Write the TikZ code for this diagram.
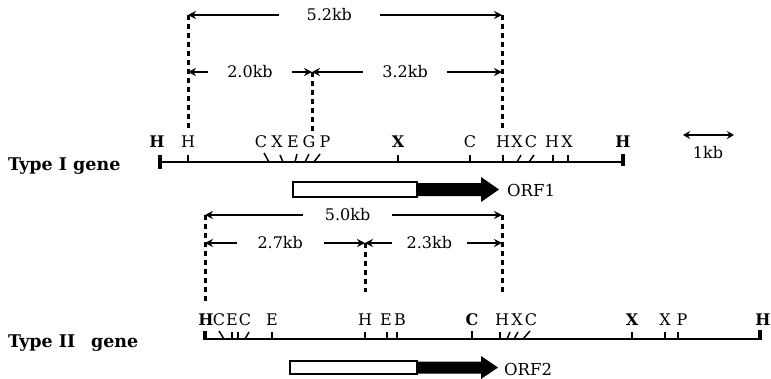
\documentclass[tikz,border=0pt]{standalone}
\usepackage{fontspec}
\setmainfont{DejaVu Serif}
\usetikzlibrary{arrows.meta}
\begin{document}
\begin{tikzpicture}[x=1pt,y=-1pt,
  site/.style={font=\fontsize{16}{18}\selectfont, inner sep=0pt},
  bsite/.style={font=\fontsize{16}{18}\selectfont\bfseries, inner sep=0pt},
  gline/.style={line width=2.4pt},
  tk/.style={line width=1.5pt},
  endtk/.style={line width=3.2pt},
  dashv/.style={line width=3pt, dash pattern=on 5pt off 4pt},
  dim/.style={line width=2pt, {Stealth[length=8pt,width=8pt]}-{Stealth[length=8pt,width=8pt]}},
  dimlab/.style={fill=white, font=\fontsize{16}{18}\selectfont, inner ysep=1pt},
  orfbox/.style={draw, line width=2.4pt, fill=white},
  glabel/.style={font=\fontsize{17.5}{20}\selectfont\bfseries, anchor=west, inner sep=0pt},
  orflab/.style={font=\fontsize{16.5}{18}\selectfont, anchor=west, inner sep=0pt}]
\useasboundingbox (0,0) rectangle (771,378);

% ---------- Type I ----------
\coordinate (a1t) at (188,15);  \coordinate (a1b) at (188,130);
\coordinate (a2t) at (312,72);  \coordinate (a2b) at (312,132);
\coordinate (a3t) at (502,15);  \coordinate (a3b) at (502,130);
\coordinate (a1m) at (188,72);  \coordinate (a3m) at (502,72);
\draw[dashv] (a1t) -- (a1b);
\draw[dashv] (a2t) -- (a2b);
\draw[dashv] (a3t) -- (a3b);
\draw[dim] (a1t) -- node[dimlab, pos=0.45, inner xsep=28pt] (l52) {5.2kb} (a3t);
\draw[dim] (a1m) -- node[dimlab, pos=0.5, inner xsep=19pt] (l20) {2.0kb} (a2t);
\draw[dim] (a2t) -- node[dimlab, pos=0.49, inner xsep=19pt] (l32) {3.2kb} (a3m);

% map line
\coordinate (g1l) at (160,162); \coordinate (g1r) at (623,162);
\draw[gline] (g1l) -- (g1r);
\draw[endtk] (160,155) -- (160,169);
\draw[endtk] (623,154) -- (623,166);
\foreach \x in {188,398,470,503,553,568} \draw[tk] (\x,162) -- (\x,155);
\draw[tk] (264,153) -- (269,162);
\draw[tk] (280,155) -- (283,162);
\draw[tk] (297,154) -- (295,162);
\draw[tk] (309,154) -- (305,162);
\draw[tk] (320,154) -- (314,162);
\draw[tk] (521,155) -- (517,162);
\draw[tk] (534,155) -- (529,162);

% site labels
\node[bsite] (t1h1) at (157,142) {H};
\node[site]  (t1h2) at (188,142) {H};
\node[site]  (t1c1) at (261,142) {C};
\node[site]  (t1x1) at (277,142) {X};
\node[site]  (t1e1) at (293,142) {E};
\node[site]  (t1g1) at (309,142) {G};
\node[site]  (t1p1) at (325,142) {P};
\node[bsite] (t1x2) at (398,142) {X};
\node[site]  (t1c2) at (470,142) {C};
\node[site]  (t1h3) at (503,142) {H};
\node[site]  (t1x3) at (517,142) {X};
\node[site]  (t1c3) at (531,142) {C};
\node[site]  (t1h4) at (552,142) {H};
\node[site]  (t1x4) at (567,142) {X};
\node[bsite] (t1h5) at (623,142) {H};

\node[glabel] (type1) at (8,166) {Type I gene};

% ORF1
\draw[orfbox] (293,182) rectangle (417,197);
\fill (417,183) -- (481,183) -- (481,177) -- (499,189.5) -- (481,202) -- (481,196) -- (417,196) -- cycle;
\node[orflab] (orf1) at (507,190) {ORF1};

% scale bar
\coordinate (sb1) at (683,135); \coordinate (sb2) at (734,135);
\draw[line width=2pt, {Stealth[length=7pt,width=8pt]}-{Stealth[length=7pt,width=8pt]}] (sb1) -- (sb2);
\node[site] (kb) at (708,153) {1kb};

% ---------- Type II ----------
\coordinate (b1t) at (205,215); \coordinate (b1b) at (205,304);
\coordinate (b2t) at (365,243); \coordinate (b2b) at (365,292);
\coordinate (b3t) at (502,215); \coordinate (b3b) at (502,292);
\coordinate (b1m) at (205,243); \coordinate (b3m) at (502,243);
\draw[dashv] (b1t) -- (b1b);
\draw[dashv] (b2t) -- (b2b);
\draw[dashv] (b3t) -- (b3b);
\draw[dim] (b1t) -- node[dimlab, pos=0.48, inner xsep=22pt] (l50) {5.0kb} (b3t);
\draw[dim] (b1m) -- node[dimlab, pos=0.47, inner xsep=21pt] (l27) {2.7kb} (b2t);
\draw[dim] (b2t) -- node[dimlab, pos=0.47, inner xsep=15pt] (l23) {2.3kb} (b3m);

\coordinate (g2l) at (205,339); \coordinate (g2r) at (760,339);
\draw[gline] (g2l) -- (g2r);
\draw[endtk] (205,340) -- (205,331);
\draw[endtk] (760,340) -- (760,330);
\foreach \x in {232,238,272,365,387,397,500,632,665,678} \draw[tk] (\x,339) -- (\x,332);
\draw[line width=2.6pt] (472,339) -- (472,331);
\draw[tk] (219,331) -- (224,339);
\draw[tk] (249,332) -- (245,339);
\draw[tk] (510,332) -- (507,339);
\draw[tk] (518,332) -- (514,339);
\draw[tk] (530,331) -- (523,339);

\node[bsite] (t2h1) at (206,320) {H};
\node[site]  (t2c1) at (219,320) {C};
\node[site]  (t2e1) at (232,320) {E};
\node[site]  (t2c2) at (245,320) {C};
\node[site]  (t2e2) at (272,320) {E};
\node[site]  (t2h2) at (365,320) {H};
\node[site]  (t2e3) at (386,320) {E};
\node[site]  (t2b1) at (400,320) {B};
\node[bsite] (t2c3) at (472,320) {C};
\node[site]  (t2h3) at (502,320) {H};
\node[site]  (t2x1) at (517,320) {X};
\node[site]  (t2c4) at (531,320) {C};
\node[bsite] (t2x2) at (632,320) {X};
\node[site]  (t2x3) at (665,320) {X};
\node[site]  (t2p1) at (682,320) {P};
\node[bsite] (t2h4) at (763,320) {H};

\node[glabel] (type2) at (8,343) {Type II\hspace{0.9em}gene};

% ORF2
\draw[orfbox] (290,361) rectangle (417,374);
\fill (417,361.5) -- (481,361.5) -- (481,356) -- (498,367.5) -- (481,379) -- (481,373.5) -- (417,373.5) -- cycle;
\node[orflab] (orf2) at (504,369) {ORF2};
\end{tikzpicture}
\end{document}
